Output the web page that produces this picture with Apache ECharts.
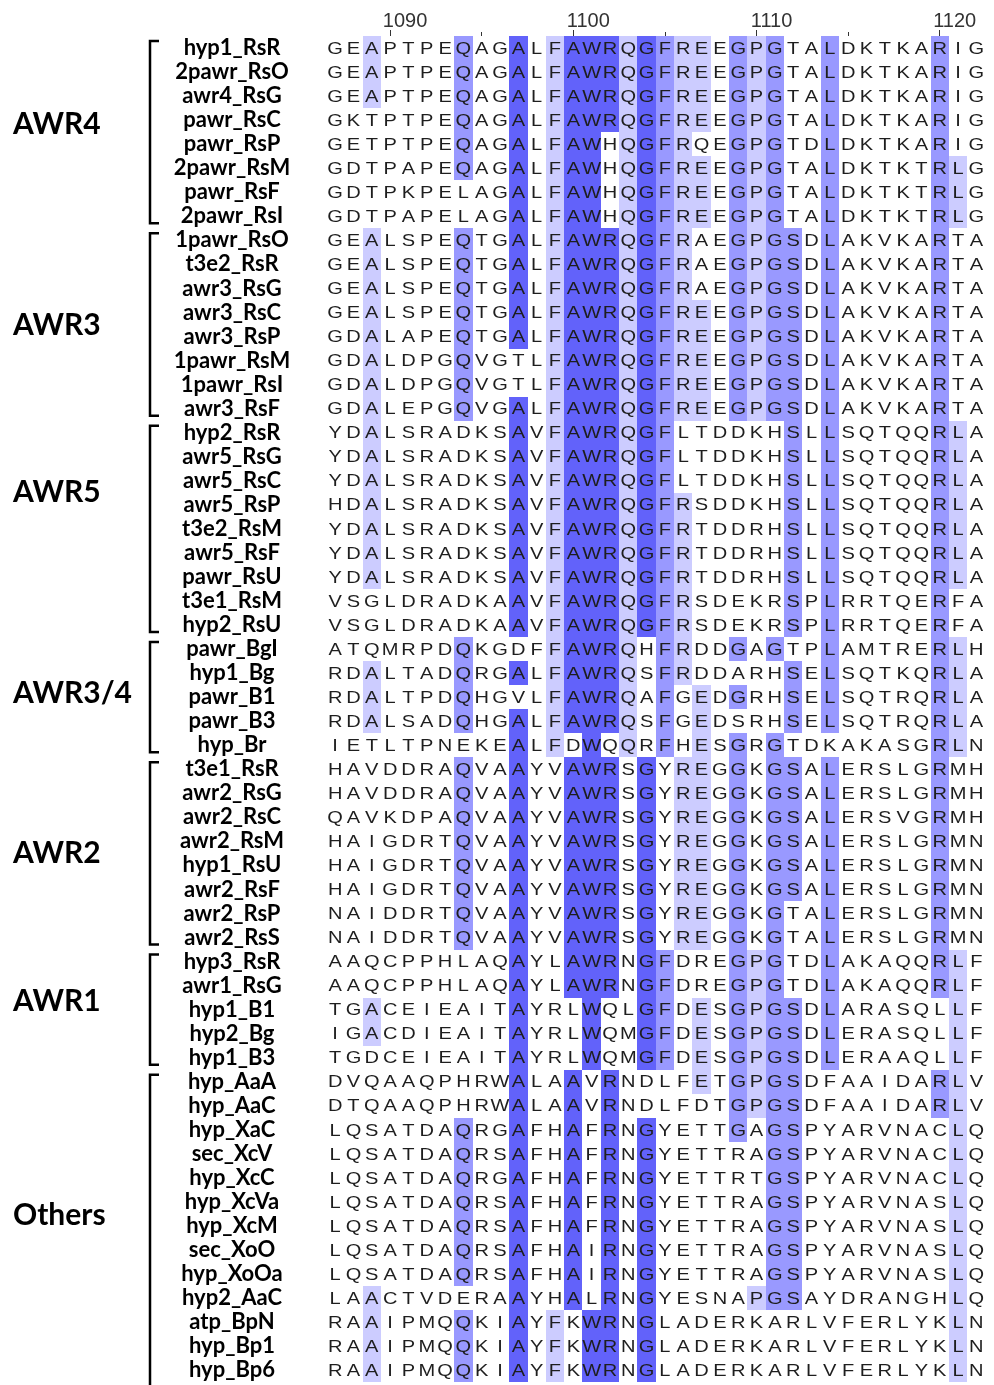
<!DOCTYPE html>
<html>
<head>
<meta charset="utf-8">
<script src="https://cdn.jsdelivr.net/npm/echarts@6/dist/echarts.min.js"></script>
<style>
html,body{margin:0;padding:0;background:#ffffff;}
#chart{width:994px;height:1385px;}
</style>
</head>
<body>
<div id="chart"></div>
<script>
// ---------------- DATA ----------------
const columnNumbers = [1087,1088,1089,1090,1091,1092,1093,1094,1095,1096,1097,1098,1099,1100,1101,1102,1103,1104,1105,1106,1107,1108,1109,1110,1111,1112,1113,1114,1115,1116,1117,1118,1119,1120,1121,1122];

const sequenceNames = [
  'hyp1_RsR','2pawr_RsO','awr4_RsG','pawr_RsC','pawr_RsP','2pawr_RsM','pawr_RsF','2pawr_RsI',
  '1pawr_RsO','t3e2_RsR','awr3_RsG','awr3_RsC','awr3_RsP','1pawr_RsM','1pawr_RsI','awr3_RsF',
  'hyp2_RsR','awr5_RsG','awr5_RsC','awr5_RsP','t3e2_RsM','awr5_RsF','pawr_RsU','t3e1_RsM','hyp2_RsU',
  'pawr_BgI','hyp1_Bg','pawr_B1','pawr_B3','hyp_Br',
  't3e1_RsR','awr2_RsG','awr2_RsC','awr2_RsM','hyp1_RsU','awr2_RsF','awr2_RsP','awr2_RsS',
  'hyp3_RsR','awr1_RsG','hyp1_B1','hyp2_Bg','hyp1_B3',
  'hyp_AaA','hyp_AaC','hyp_XaC','sec_XcV','hyp_XcC','hyp_XcVa','hyp_XcM','sec_XoO','hyp_XoOa','hyp2_AaC','atp_BpN','hyp_Bp1','hyp_Bp6'
];

const sequences = [
  'GEAPTPEQAGALFAWRQGFREEGPGTALDKTKARIG',
  'GEAPTPEQAGALFAWRQGFREEGPGTALDKTKARIG',
  'GEAPTPEQAGALFAWRQGFREEGPGTALDKTKARIG',
  'GKTPTPEQAGALFAWRQGFREEGPGTALDKTKARIG',
  'GETPTPEQAGALFAWHQGFRQEGPGTDLDKTKARIG',
  'GDTPAPEQAGALFAWHQGFREEGPGTALDKTKTRLG',
  'GDTPKPELAGALFAWHQGFREEGPGTALDKTKTRLG',
  'GDTPAPELAGALFAWHQGFREEGPGTALDKTKTRLG',
  'GEALSPEQTGALFAWRQGFRAEGPGSDLAKVKARTA',
  'GEALSPEQTGALFAWRQGFRAEGPGSDLAKVKARTA',
  'GEALSPEQTGALFAWRQGFRAEGPGSDLAKVKARTA',
  'GEALSPEQTGALFAWRQGFREEGPGSDLAKVKARTA',
  'GDALAPEQTGALFAWRQGFREEGPGSDLAKVKARTA',
  'GDALDPGQVGTLFAWRQGFREEGPGSDLAKVKARTA',
  'GDALDPGQVGTLFAWRQGFREEGPGSDLAKVKARTA',
  'GDALEPGQVGALFAWRQGFREEGPGSDLAKVKARTA',
  'YDALSRADKSAVFAWRQGFLTDDKHSLLSQTQQRLA',
  'YDALSRADKSAVFAWRQGFLTDDKHSLLSQTQQRLA',
  'YDALSRADKSAVFAWRQGFLTDDKHSLLSQTQQRLA',
  'HDALSRADKSAVFAWRQGFRSDDKHSLLSQTQQRLA',
  'YDALSRADKSAVFAWRQGFRTDDRHSLLSQTQQRLA',
  'YDALSRADKSAVFAWRQGFRTDDRHSLLSQTQQRLA',
  'YDALSRADKSAVFAWRQGFRTDDRHSLLSQTQQRLA',
  'VSGLDRADKAAVFAWRQGFRSDEKRSPLRRTQERFA',
  'VSGLDRADKAAVFAWRQGFRSDEKRSPLRRTQERFA',
  'ATQMRPDQKGDFFAWRQHFRDDGAGTPLAMTRERLH',
  'RDALTADQRGALFAWRQSFRDDARHSELSQTKQRLA',
  'RDALTPDQHGVLFAWRQAFGEDGRHSELSQTRQRLA',
  'RDALSADQHGALFAWRQSFGEDSRHSELSQTRQRLA',
  'IETLTPNEKEALFDWQQRFHESGRGTDKAKASGRLN',
  'HAVDDRAQVAAYVAWRSGYREGGKGSALERSLGRMH',
  'HAVDDRAQVAAYVAWRSGYREGGKGSALERSLGRMH',
  'QAVKDPAQVAAYVAWRSGYREGGKGSALERSVGRMH',
  'HAIGDRTQVAAYVAWRSGYREGGKGSALERSLGRMN',
  'HAIGDRTQVAAYVAWRSGYREGGKGSALERSLGRMN',
  'HAIGDRTQVAAYVAWRSGYREGGKGSALERSLGRMN',
  'NAIDDRTQVAAYVAWRSGYREGGKGTALERSLGRMN',
  'NAIDDRTQVAAYVAWRSGYREGGKGTALERSLGRMN',
  'AAQCPPHLAQAYLAWRNGFDREGPGTDLAKAQQRLF',
  'AAQCPPHLAQAYLAWRNGFDREGPGTDLAKAQQRLF',
  'TGACEIEAITAYRLWQLGFDESGPGSDLARASQLLF',
  'IGACDIEAITAYRLWQMGFDESGPGSDLERASQLLF',
  'TGDCEIEAITAYRLWQMGFDESGPGSDLERAAQLLF',
  'DVQAAQPHRWALAAVRNDLFETGPGSDFAAIDARLV',
  'DTQAAQPHRWALAAVRNDLFDTGPGSDFAAIDARLV',
  'LQSATDAQRGAFHAFRNGYETTGAGSPYARVNACLQ',
  'LQSATDAQRSAFHAFRNGYETTRAGSPYARVNACLQ',
  'LQSATDAQRGAFHAFRNGYETTRTGSPYARVNACLQ',
  'LQSATDAQRSAFHAFRNGYETTRAGSPYARVNASLQ',
  'LQSATDAQRSAFHAFRNGYETTRAGSPYARVNASLQ',
  'LQSATDAQRSAFHAIRNGYETTRAGSPYARVNASLQ',
  'LQSATDAQRSAFHAIRNGYETTRAGSPYARVNASLQ',
  'LAACTVDERAAYHALRNGYESNAPGSAYDRANGHLQ',
  'RAAIPMQQKIAYFKWRNGLADERKARLVFERLYKLN',
  'RAAIPMQQKIAYFKWRNGLADERKARLVFERLYKLN',
  'RAAIPMQQKIAYFKWRNGLADERKARLVFERLYKLN'
];

// conserved residue of each column and its identity level (0 none, 1 >40%, 2 >60%, 3 >80%)
const conservedResidue = ['','','A','','','','','Q','','','A','','F','A','W','R','Q','G','F','R','E','','G','P','G','S','','L','','','','','','R','L',''];
const conservationLevel = [0,0,1,0,0,0,0,2,0,0,3,0,1,3,3,3,1,3,2,1,1,0,2,1,2,2,0,2,0,0,0,0,0,2,1,0];

const groupNames = ['AWR4','AWR3','AWR5','AWR3/4','AWR2','AWR1','Others'];
const groupFirstRow = [0,8,16,25,30,38,43];
const groupLastRow = [7,15,24,29,37,42,55];

// ---------------- STYLE / LAYOUT ----------------
const shadeColors = ['transparent','#ccccff','#9999ff','#6262fa'];
const groupLabelNudge = [-8, 1, -36, -4, 0, -8, -11];
const groupOpenBottom = [false,false,false,false,false,false,true];
const COL_W = 18.32, ROW_H = 24.04;

const cells = [];
for (let r = 0; r < sequences.length; r++) {
  for (let c = 0; c < sequences[r].length; c++) cells.push([c, r]);
}
const groupData = groupNames.map((n, i) => [0, groupFirstRow[i], i]);

const chart = echarts.init(document.getElementById('chart'), null, {renderer: 'canvas'});

const option = {
  backgroundColor: '#ffffff',
  animation: false,
  grid: {left: 326, top: 36, width: COL_W * 36, height: ROW_H * 56, containLabel: false, outerBoundsMode: 'none'},
  xAxis: [
    {
      type: 'category', position: 'top', data: columnNumbers.map(String),
      axisLine: {show: false},
      axisTick: {show: true, alignWithLabel: true, length: 6, lineStyle: {color: '#333', width: 1},
        interval: (i, v) => Number(v) % 10 === 0},
      axisLabel: {show: true, interval: (i, v) => Number(v) % 10 === 0, color: '#333',
        fontFamily: '"Liberation Sans", Arial, sans-serif', fontSize: 20, margin: 5,
        align: 'center', padding: [0, 0, 0, 30]},
      splitLine: {show: false}
    },
    {
      type: 'category', position: 'top', data: columnNumbers.map(String),
      axisLine: {show: false},
      axisTick: {show: true, alignWithLabel: true, length: 4, lineStyle: {color: '#333', width: 1},
        interval: (i, v) => Number(v) % 5 === 0 && Number(v) % 10 !== 0},
      axisLabel: {show: false},
      splitLine: {show: false}
    }
  ],
  yAxis: {
    type: 'category', inverse: true, data: sequenceNames,
    axisLine: {show: false}, axisTick: {show: false}, splitLine: {show: false},
    axisLabel: {interval: 0, color: '#000', fontFamily: 'Lato, "Open Sans", sans-serif', fontWeight: 'bold',
      fontSize: 22, align: 'center', margin: 94}
  },
  series: [
    {
      type: 'custom', coordinateSystem: 'cartesian2d', xAxisIndex: 0, yAxisIndex: 0,
      clip: false, silent: true, data: cells,
      renderItem: function (params, api) {
        const c = api.value(0), r = api.value(1);
        const p = api.coord([c, r]);
        const s = api.size([1, 1]);
        const letter = sequences[r][c];
        const level = (conservedResidue[c] === letter) ? conservationLevel[c] : 0;
        const children = [];
        if (level > 0) {
          const x0 = Math.round(p[0] - s[0] / 2), x1 = Math.round(p[0] + s[0] / 2);
          const y0 = Math.round(p[1] - s[1] / 2), y1 = Math.round(p[1] + s[1] / 2);
          children.push({type: 'rect', shape: {x: x0, y: y0, width: x1 - x0, height: y1 - y0},
            style: {fill: shadeColors[level]}});
        }
        children.push({type: 'text', x: p[0], y: p[1] + 1, scaleX: 1.18, scaleY: 1,
          style: {text: letter, x: 0, y: 0, align: 'center', verticalAlign: 'middle',
            font: '17px "Liberation Sans", Arial, sans-serif', fill: '#1e1e1e'}});
        return {type: 'group', children: children};
      }
    },
    {
      type: 'custom', coordinateSystem: 'cartesian2d', xAxisIndex: 0, yAxisIndex: 0,
      clip: false, silent: true, data: groupData,
      renderItem: function (params, api) {
        const g = api.value(2);
        const rowH = api.size([0, 1])[1];
        const topC = api.coord([0, groupFirstRow[g]])[1];
        const botC = api.coord([0, groupLastRow[g]])[1];
        const y0 = topC - rowH / 2 + 5;
        const y1 = groupOpenBottom[g] ? 1400 : botC + rowH / 2 - 5;
        const pts = groupOpenBottom[g]
          ? [[159, y0], [150, y0], [150, y1]]
          : [[159, y0], [150, y0], [150, y1], [159, y1]];
        const midY = (topC + botC) / 2 + groupLabelNudge[g];
        return {type: 'group', children: [
          {type: 'polyline', shape: {points: pts}, style: {stroke: '#000', lineWidth: 2.5, fill: null}},
          {type: 'text', style: {text: groupNames[g], x: 13, y: midY, align: 'left', verticalAlign: 'middle',
            font: 'bold 30px Lato, "Open Sans", sans-serif', fill: '#000'}}
        ]};
      }
    }
  ]
};
chart.setOption(option);
</script>
</body>
</html>
